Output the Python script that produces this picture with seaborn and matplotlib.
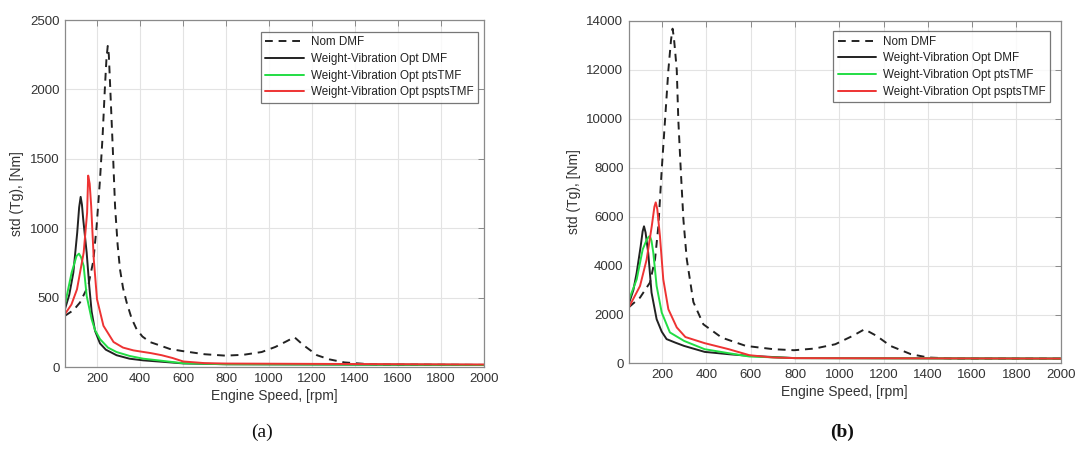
import matplotlib
matplotlib.use("Agg")
import matplotlib.pyplot as plt
import seaborn as sns

# ---------------- data (a) ----------------
a_nom_x = [50, 90, 120, 158, 182, 197, 213, 225, 236, 243, 249, 254, 259, 272, 283, 295, 306, 320, 337, 360, 383, 410, 445, 483, 538, 596, 700, 796, 880, 965, 1029, 1080, 1117, 1157, 1222, 1280, 1350, 1450, 1510, 2000]
a_nom_y = [369, 410, 465, 584, 765, 1009, 1351, 1661, 2020, 2220, 2313, 2250, 2069, 1590, 1159, 880, 704, 570, 465, 350, 273, 220, 180, 160, 130, 115, 92, 82, 88, 108, 145, 185, 215, 160, 85, 55, 33, 22, 18, 15]

a_dmf_x = [50, 70, 89, 107, 116, 123, 129, 135, 151, 163, 174, 190, 213, 240, 290, 350, 414, 500, 600, 800, 2000]
a_dmf_y = [417, 520, 680, 968, 1150, 1226, 1170, 1063, 824, 584, 400, 260, 170, 125, 85, 60, 48, 38, 26, 20, 15]

a_pts_x = [50, 81, 104, 115, 125, 137, 151, 174, 190, 213, 250, 290, 350, 414, 500, 600, 800, 2000]
a_pts_y = [450, 680, 800, 817, 790, 728, 512, 345, 265, 201, 140, 108, 80, 60, 45, 27, 20, 15]

a_psp_x = [50, 80, 106, 137, 153, 158, 165, 172, 184, 199, 229, 276, 320, 368, 400, 450, 500, 550, 600, 700, 800, 2000]
a_psp_y = [381, 450, 560, 824, 1111, 1379, 1320, 1159, 776, 489, 297, 180, 140, 120, 112, 100, 85, 65, 40, 28, 25, 18]

# ---------------- data (b) ----------------
b_nom_x = [50, 100, 145, 168, 183, 198, 213, 228, 240, 247, 253, 260, 266, 273, 284, 296, 311, 341, 386, 469, 578, 703, 796, 889, 982, 1060, 1114, 1169, 1231, 1324, 1402, 1511, 2000]
b_nom_y = [2300, 2689, 3305, 4268, 5623, 7906, 9939, 11972, 13200, 13667, 13300, 12600, 11972, 9939, 7906, 5874, 4268, 2508, 1600, 1057, 718, 583, 542, 610, 786, 1125, 1396, 1125, 718, 379, 244, 203, 200]

b_dmf_x = [50, 70, 85, 103, 112, 118, 125, 137, 152, 175, 198, 220, 260, 299, 392, 501, 594, 800, 2000]
b_dmf_y = [2450, 3000, 3707, 4789, 5400, 5600, 5350, 4520, 2894, 1809, 1300, 996, 850, 718, 474, 379, 312, 220, 200]

b_pts_x = [50, 85, 112, 130, 140, 145, 152, 160, 175, 198, 235, 299, 392, 501, 594, 800, 2000]
b_pts_y = [2600, 3435, 4654, 5050, 5180, 5195, 5000, 4520, 3163, 2081, 1268, 922, 583, 420, 285, 220, 200]

b_psp_x = [50, 100, 130, 153, 165, 171, 178, 190, 205, 228, 266, 305, 392, 501, 594, 700, 800, 2000]
b_psp_y = [2300, 3163, 4248, 5602, 6400, 6577, 6300, 5195, 3435, 2215, 1472, 1080, 830, 583, 339, 244, 220, 200]

labels = ["Nom DMF", "Weight-Vibration Opt DMF", "Weight-Vibration Opt ptsTMF", "Weight-Vibration Opt psptsTMF"]
x_ticks = [200, 400, 600, 800, 1000, 1200, 1400, 1600, 1800, 2000]

sns.set_theme(style="white")
plt.rcParams['font.family'] = ['Liberation Sans', 'DejaVu Sans']

fig = plt.figure(figsize=(10.79, 4.57), dpi=100)
axA = fig.add_axes([0.0602, 0.1969, 0.3886, 0.7593])
axB = fig.add_axes([0.5829, 0.2046, 0.4001, 0.7505])

colors = ["#222222", "#222222", "#22dd44", "#ee3333"]
styles = [(0, (4, 3)), "-", "-", "-"]

def draw(ax, series, ylim, yticks, anchor):
    for (x, y), lab, c, ls in zip(series, labels, colors, styles):
        sns.lineplot(x=x, y=y, ax=ax, color=c, linestyle=ls, linewidth=1.4,
                     label=lab, sort=False, estimator=None)
    ax.set_xlim(50, 2000)
    ax.set_ylim(*ylim)
    ax.set_xticks(x_ticks)
    ax.set_yticks(yticks)
    ax.grid(True, color="#e3e3e3", linewidth=0.8)
    ax.set_axisbelow(True)
    for s in ax.spines.values():
        s.set_color("#8a8a8a")
        s.set_linewidth(0.9)
    ax.tick_params(direction="in", length=4, width=0.7, color="#8a8a8a",
                   top=True, right=True, labelsize=9.5, labelcolor="#333333", pad=4)
    ax.set_xlabel("Engine Speed, [rpm]", fontsize=10, color="#333333", labelpad=3)
    ax.set_ylabel("std (Tg), [Nm]", fontsize=10, color="#333333", labelpad=4)
    leg = ax.legend(loc="upper right", bbox_to_anchor=anchor, fontsize=8.4,
                    frameon=True, fancybox=False, handlelength=3.3, handletextpad=0.6,
                    borderpad=0.4, labelspacing=0.4, borderaxespad=0)
    leg.get_frame().set_edgecolor("#555555")
    leg.get_frame().set_linewidth(0.9)
    for t in leg.get_texts():
        t.set_color("#222222")

draw(axA, [(a_nom_x, a_nom_y), (a_dmf_x, a_dmf_y), (a_pts_x, a_pts_y), (a_psp_x, a_psp_y)],
     (0, 2500), [0, 500, 1000, 1500, 2000, 2500], (0.9857, 0.9663))
draw(axB, [(b_nom_x, b_nom_y), (b_dmf_x, b_dmf_y), (b_pts_x, b_pts_y), (b_psp_x, b_psp_y)],
     (0, 14000), [0, 2000, 4000, 6000, 8000, 10000, 12000, 14000], (0.976, 0.9694))

fig.text(0.243, 0.055, "(a)", ha="center", va="center", fontsize=14,
         family=["Liberation Serif", "DejaVu Serif"], color="#111111")
fig.text(0.780, 0.055, "(b)", ha="center", va="center", fontsize=14, fontweight="bold",
         family=["Liberation Serif", "DejaVu Serif"], color="#111111")

fig.savefig("out.png", dpi=100, facecolor="white")
